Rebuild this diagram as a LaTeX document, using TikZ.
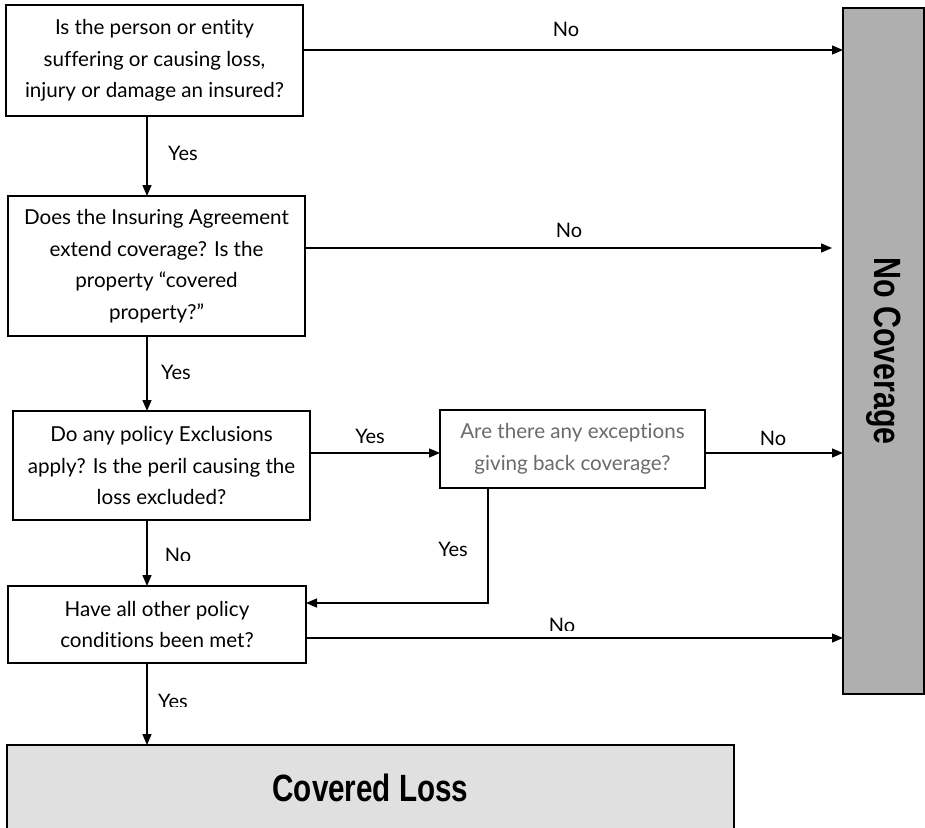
\documentclass[tikz,border=0pt]{standalone}
\usepackage{fontspec}
\setmainfont{Lato}[Ligatures={NoCommon}]
\newfontfamily\boldcond{Liberation Sans}[BoldFont={Liberation Sans Bold}]
\usetikzlibrary{arrows.meta}
\definecolor{ncgray}{HTML}{AFAFAF}
\definecolor{clgray}{HTML}{E0E0E0}
\definecolor{txtgray}{HTML}{6B6B6B}
\tikzset{
  qbox/.style={draw, line width=1.3pt, fill=white, align=center, inner sep=0pt, outer sep=0pt,
    font=\fontsize{20.6}{31.5}\selectfont},
  lbl/.style={anchor=base, inner sep=0pt, font=\fontsize{20}{23}\selectfont},
  conn/.style={line width=1.3pt, -{Triangle[length=11pt,width=9pt]}},
  bigtxt/.style={font=\boldcond\bfseries\fontsize{38}{40}\selectfont}
}
\begin{document}
\begin{tikzpicture}[x=1pt,y=-1pt]
\useasboundingbox (0,0) rectangle (925,827);
\begin{scope}
\clip (0,0) rectangle (925,827);
% boxes
\node[qbox, minimum width=297pt, minimum height=111pt] (b1) at (154.5,60.5)
  {Is the person or entity\\suffering or causing loss,\\injury or damage an insured?};
\node[qbox, minimum width=297pt, minimum height=140pt] (b2) at (156.5,266)
  {Does the Insuring Agreement\\extend coverage? Is the\\property ``covered\\property?''};
\node[qbox, minimum width=297pt, minimum height=109pt] (b3) at (161.5,465.5)
  {Do any policy Exclusions\\apply? Is the peril causing the\\loss excluded?};
\node[qbox, minimum width=265pt, minimum height=78pt, text=txtgray] (b4) at (572.5,449)
  {Are there any exceptions\\giving back coverage?};
\node[qbox, minimum width=298pt, minimum height=77pt] (b5) at (157,624.5)
  {Have all other policy\\conditions been met?};
\node[qbox, fill=clgray, minimum width=727pt, minimum height=86pt, bigtxt] (cl) at (370.5,788)
  {\scalebox{0.78}[1]{Covered Loss}};
\node[qbox, fill=ncgray, minimum width=81pt, minimum height=686pt] (nc) at (883.5,351) {};
\node[bigtxt, rotate=-90] (nct) at (nc.center) {\scalebox{0.8}[1]{No Coverage}};
\end{scope}
% helper coordinates
\coordinate (vx) at (147,0);
\coordinate (h1) at (0,50);
\coordinate (e2) at (832,248);
\coordinate (h3) at (0,453);
\coordinate (vy) at (488,0);
\coordinate (k4) at (488,603);
\coordinate (h5) at (0,638);
% connectors
\draw[conn] (b1.east |- h1) -- (nc.west |- h1);
\draw[conn] (b1.south -| vx) -- (b2.north -| vx);
\draw[conn] (b2.east |- e2) -- (e2);
\draw[conn] (b2.south -| vx) -- (b3.north -| vx);
\draw[conn] (b3.east |- h3) -- (b4.west |- h3);
\draw[conn] (b4.east |- h3) -- (nc.west |- h3);
\draw[conn] (b4.south -| vy) -- (k4) -- (b5.east |- k4);
\draw[conn] (b3.south -| vx) -- (b5.north -| vx);
\draw[conn] (b5.east |- h5) -- (nc.west |- h5);
\draw[conn] (b5.south -| vx) -- (cl.north -| vx);
% labels
\node[lbl] (l1) at (566,36) {No};
\node[lbl] (l2) at (183,160) {Yes};
\node[lbl] (l3) at (569,237) {No};
\node[lbl] (l4) at (176,379) {Yes};
\node[lbl] (l5) at (370,443) {Yes};
\node[lbl] (l6) at (773,445) {No};
\node[lbl] (l7) at (453,556) {Yes};
\begin{scope}
\clip (140,530) rectangle (220,560.5);
\node[lbl] (l8) at (178,562.5) {No};
\end{scope}
\begin{scope}
\clip (520,600) rectangle (610,630);
\node[lbl] (l9) at (562,632) {No};
\end{scope}
\begin{scope}
\clip (140,680) rectangle (220,706);
\node[lbl] (l10) at (173,708.5) {Yes};
\end{scope}
\end{tikzpicture}
\end{document}
